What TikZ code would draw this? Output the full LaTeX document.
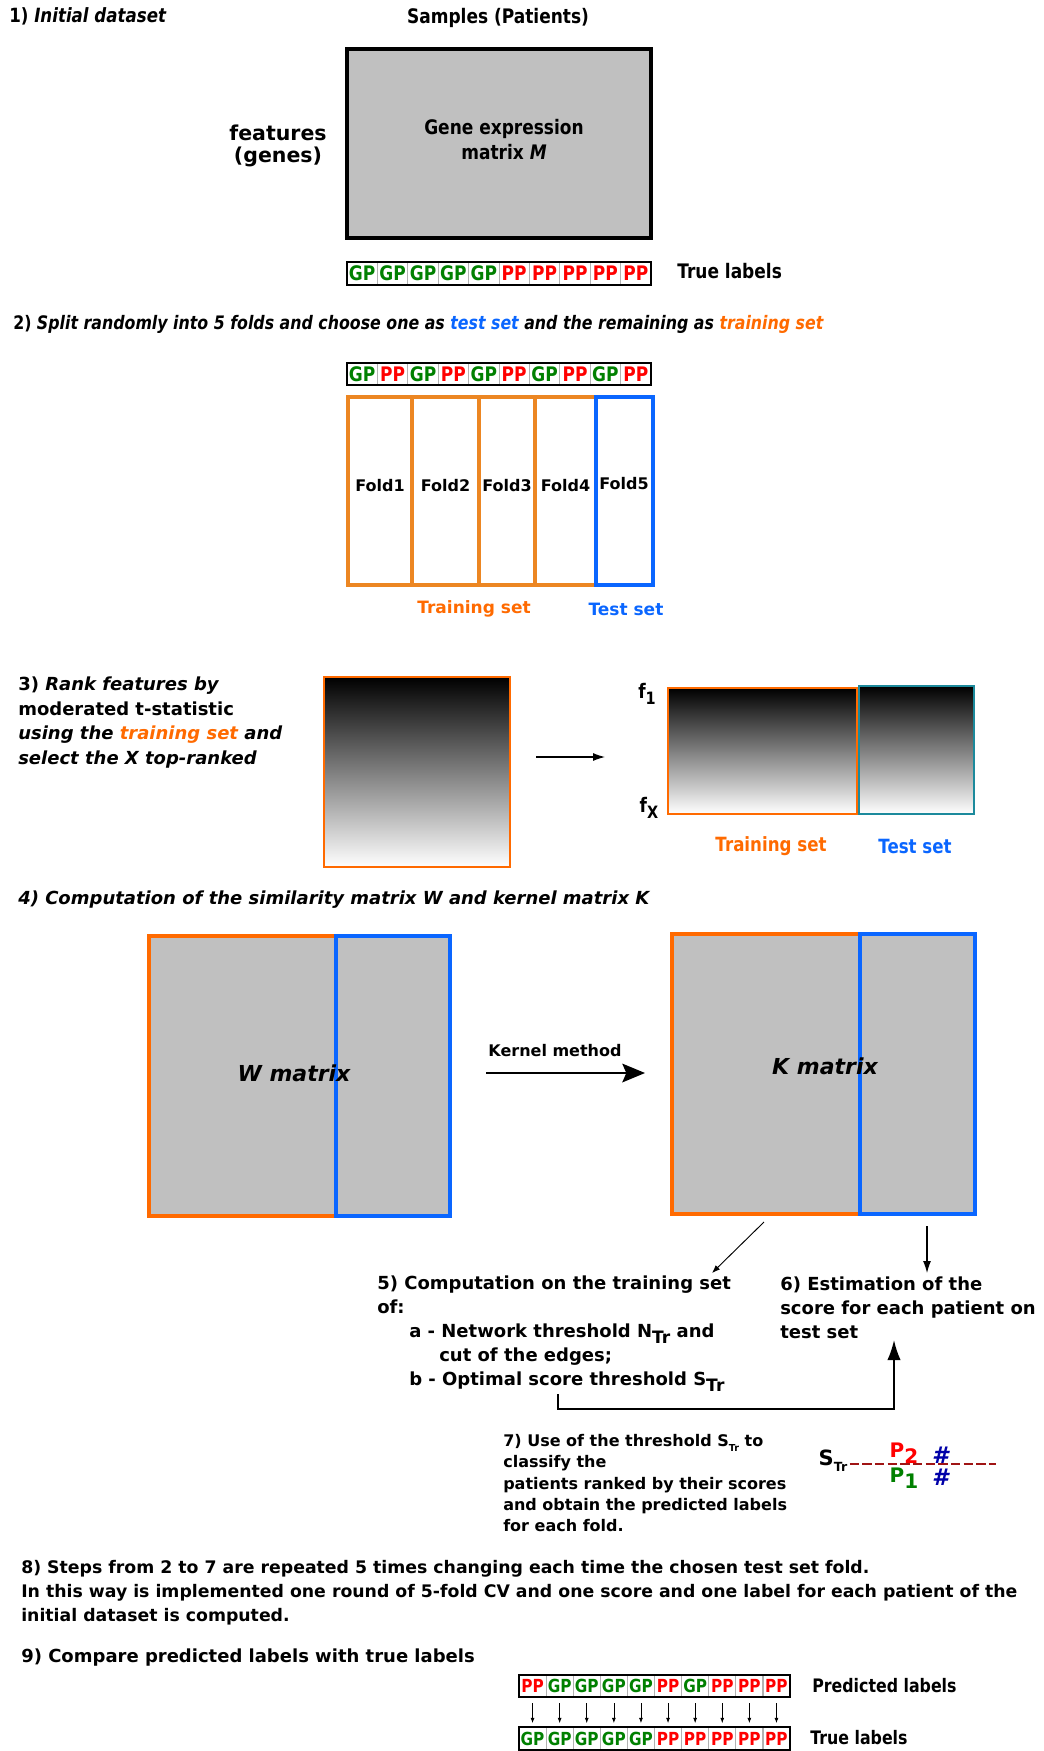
\documentclass[tikz,border=0pt]{standalone}
\usepackage{fontspec}
\setmainfont{DejaVu Sans}
\newfontfamily\condfont[FakeStretch=0.85]{DejaVu Sans}
\usetikzlibrary{arrows.meta,positioning}

\definecolor{gpgreen}{HTML}{008000}
\definecolor{ppred}{HTML}{FF0000}
\definecolor{trainorange}{HTML}{FF6A00}
\definecolor{foldorange}{HTML}{EC8622}
\definecolor{testblue}{HTML}{0A66FF}
\definecolor{tealedge}{HTML}{1C8A9C}
\definecolor{matgray}{HTML}{C0C0C0}
\definecolor{thrred}{HTML}{A01414}
\definecolor{hashblue}{HTML}{0000A8}

% size in px, baselineskip in px
\newcommand{\px}[2]{\fontsize{\fpeval{#1*0.75}pt}{\fpeval{#2*0.75}pt}\selectfont}
\newcommand{\lowtxt}[2][0.85]{\raisebox{-0.3em}{\scalebox{#1}{#2}}}

\tikzstyle{txt} = [inner sep=0, font=\bfseries]
\tikzstyle{ctxt} = [inner sep=0, font=\condfont\bfseries\px{20}{20}]
\tikzstyle{cell} = [draw=gray!60, line width=0.6pt, fill=white, inner sep=0, minimum height=17pt]
\tikzstyle{frame} = [draw=black, line width=2pt]
\tikzstyle{trainbox} = [draw=foldorange, line width=2.3pt]
\tikzstyle{testbox} = [draw=testblue, line width=2.3pt]
\tikzstyle{mat} = [fill=matgray]
\tikzstyle{grad} = [top color=black, bottom color=white]
\tikzstyle{thin} = [line width=0.7pt, -{Latex[length=6pt,width=4.5pt]}]

\begin{document}
\begin{tikzpicture}[x=0.75pt,y=-0.75pt]
\useasboundingbox (0,0) rectangle (1043,1751);

%Step 1
\node[ctxt, anchor=west, font=\condfont\bfseries\px{19.6}{19.6}] (s1) at (9,16) {1) \textit{Initial dataset}};
\node[ctxt] (samples) at (498,18) {Samples (Patients)};
\draw[frame, mat, line width=2.4pt] (347,49) rectangle (651,238);
\node[ctxt, align=center, font=\condfont\bfseries\px{20}{25}] (gem) at (504,140) {Gene expression\\matrix \textit{M}};
\node[txt, align=center, font=\bfseries\px{20.5}{22}] (feat) at (278,146) {features\\(genes)};

\foreach \col/\lab [count=\i] in {gpgreen/GP,gpgreen/GP,gpgreen/GP,gpgreen/GP,gpgreen/GP,ppred/PP,ppred/PP,ppred/PP,ppred/PP,ppred/PP}
  \node[cell, ctxt, text=\col, minimum width=22.8pt] (tl\i) at ({347+30.4*(\i-0.5)},273.5) {\lab};
\draw[frame] (347,262) rectangle (651,285);
\node[ctxt, anchor=west] (truelab) at (677,271) {True labels};

%Step 2
\node[ctxt, anchor=west, font=\condfont\bfseries\px{18.6}{18.6}] (s2) at (13,324) {2) \textit{Split randomly into 5 folds and choose one as \textcolor{testblue}{test set} and the remaining as \textcolor{trainorange}{training set}}};

\foreach \col/\lab [count=\i] in {gpgreen/GP,ppred/PP,gpgreen/GP,ppred/PP,gpgreen/GP,ppred/PP,gpgreen/GP,ppred/PP,gpgreen/GP,ppred/PP}
  \node[cell, ctxt, text=\col, minimum width=22.8pt] (fl\i) at ({347+30.4*(\i-0.5)},374) {\lab};
\draw[frame] (347,363) rectangle (651,385);

\foreach \a/\b/\n in {348/412/1,412/479/2,479/535/3,535/596/4}{
  \draw[trainbox] (\a,397) rectangle (\b,585);
  \node[txt, font=\bfseries\px{16}{16}] (fold\n) at ({(\a+\b)/2},486) {Fold\n};
}
\draw[testbox] (596,397) rectangle (653,585);
\node[txt, font=\bfseries\px{16}{16}] (fold5) at (624,484) {Fold5};

\node[txt, text=trainorange, font=\bfseries\px{17}{17}] (train2) at (474,609) {Training set};
\node[txt, text=testblue, font=\bfseries\px{17}{17}] (test2) at (626,609) {Test set};

%Step 3
\node[txt, anchor=north west, align=left, font=\bfseries\px{18}{24.5}] (s3) at (18,677) {3) \textit{Rank features by}\\moderated t-statistic\\\textit{using the \textcolor{trainorange}{training set} and}\\\textit{select the X top-ranked}};

\shade[grad] (324,677) rectangle (510,867);
\draw[draw=trainorange, line width=2.2pt] (324,677) rectangle (510,867);
\coordinate (rankout) at (536,757);
\coordinate (selin) at (605,757);
\draw[line width=0.8pt, -{Latex[length=9pt,width=6pt]}] (rankout) -- (selin);

\shade[grad] (668,688) rectangle (857,814);
\draw[draw=trainorange, line width=2.2pt] (668,688) rectangle (857,814);
\shade[grad] (859,686) rectangle (974,814);
\draw[draw=tealedge, line width=2.2pt] (859,686) rectangle (974,814);
\node[ctxt, font=\condfont\bfseries\px{20}{20}] (f1) at (647,694) {f\lowtxt{1}};
\node[ctxt, font=\condfont\bfseries\px{20}{20}] (fx) at (649,808) {f\lowtxt{X}};
\node[ctxt, font=\condfont\bfseries\px{19.6}{19.6}, text=trainorange] (train3) at (771,846) {Training set};
\node[ctxt, font=\condfont\bfseries\px{19.6}{19.6}, text=testblue] (test3) at (915,846) {Test set};

%Step 4
\node[txt, anchor=west, font=\bfseries\itshape\px{18}{18}] (s4) at (18,900) {4) Computation of the similarity matrix W and kernel matrix K};

\draw[mat, draw=trainorange, line width=2.4pt] (149,936) rectangle (336,1216);
\draw[mat, draw=testblue, line width=2.4pt] (336,936) rectangle (450,1216);
\node[txt, font=\bfseries\itshape\px{22}{22}] (wmat) at (294,1073) {W matrix};

\coordinate (wout) at (486,1073);
\coordinate (kin) at (645,1073);
\draw[line width=1.6pt, -{Stealth[length=17pt,width=14pt,inset=3pt]}] (wout) -- (kin);
\node[txt, font=\bfseries\px{16}{16}] (kernel) at (555,1051) {Kernel method};

\draw[mat, draw=trainorange, line width=2.4pt] (672,934) rectangle (860,1214);
\draw[mat, draw=testblue, line width=2.4pt] (860,934) rectangle (975,1214);
\node[txt, font=\bfseries\itshape\px{22}{22}] (kmat) at (825,1066) {K matrix};

%Steps 5 and 6
\node[txt, anchor=north west, align=left, font=\bfseries\px{18}{24}] (s5) at (377,1276) {5) Computation on the training set\\of:\\\hspace*{24pt}a - Network threshold N\lowtxt[0.95]{Tr} and\\\hspace*{46.5pt}cut of the edges;\\\hspace*{24pt}b - Optimal score threshold S\lowtxt[0.95]{Tr}};
\node[txt, anchor=north west, align=left, font=\bfseries\px{18}{24}] (s6) at (780,1277) {6) Estimation of the\\score for each patient on\\test set};

\coordinate (ktrain) at (764,1222);
\coordinate (s5in) at (712,1273);
\coordinate (ktest) at (927,1226);
\coordinate (s6top) at (927,1273);
\draw[thin] (ktrain) -- (s5in);
\draw[line width=0.8pt, -{Latex[length=9pt,width=6pt]}] (ktest) -- (s6top);

\coordinate (sthr) at (558,1394);
\coordinate (s6in) at (894,1340);
\draw[line width=1.3pt, -{Latex[length=15pt,width=10pt]}] (sthr) -- ++(0,15) -| (s6in);

%Step 7
\node[txt, anchor=north west, align=left, font=\bfseries\px{16}{21.3}] (s7) at (503,1434) {7) Use of the threshold S\lowtxt[0.6]{Tr} to\\classify the\\patients ranked by their scores\\and obtain the predicted labels\\for each fold.};

\node[txt, font=\bfseries\px{21}{21}] (strlab) at (833,1461) {S\lowtxt[0.6]{Tr}};
\coordinate (thrend) at (996,1464);
\draw[draw=thrred, line width=2pt, dash pattern=on 7pt off 2.5pt] (strlab.east) ++(2,3) -- (thrend);
\node[txt, text=ppred, font=\bfseries\px{20}{20}] (p2) at (904,1453) {P\lowtxt[1]{2}};
\node[txt, text=gpgreen, font=\bfseries\px{20}{20}] (p1) at (904,1478) {P\lowtxt[1]{1}};
\node[txt, text=hashblue, font=\bfseries\itshape\px{23}{23}] (h2) at (940,1455) {\#};
\node[txt, text=hashblue, font=\bfseries\itshape\px{23}{23}] (h1) at (940,1477) {\#};

%Steps 8 and 9
\node[txt, anchor=north west, align=left, font=\bfseries\px{17.3}{24}] (s8) at (21,1560) {8) Steps from 2 to 7 are repeated 5 times changing each time the chosen test set fold.\\In this way is implemented one round of 5-fold CV and one score and one label for each patient of the\\initial dataset is computed.};
\node[txt, anchor=west, font=\bfseries\px{18}{18}] (s9) at (21,1658) {9) Compare predicted labels with true labels};

\foreach \col/\lab [count=\i] in {ppred/PP,gpgreen/GP,gpgreen/GP,gpgreen/GP,gpgreen/GP,ppred/PP,gpgreen/GP,ppred/PP,ppred/PP,ppred/PP}
  \node[cell, ctxt, font=\condfont\bfseries\px{18}{18}, text=\col, minimum width=20.3pt, minimum height=16.5pt] (pl\i) at ({519+27.1*(\i-0.5)},1686) {\lab};
\draw[frame] (519,1675) rectangle (790,1697);
\node[ctxt, anchor=west, font=\condfont\bfseries\px{18.6}{18.6}] (predlab) at (812,1686) {Predicted labels};

\foreach \col/\lab [count=\i] in {gpgreen/GP,gpgreen/GP,gpgreen/GP,gpgreen/GP,gpgreen/GP,ppred/PP,ppred/PP,ppred/PP,ppred/PP,ppred/PP}
  \node[cell, ctxt, font=\condfont\bfseries\px{18}{18}, text=\col, minimum width=20.3pt, minimum height=16.5pt] (tb\i) at ({519+27.1*(\i-0.5)},1738.5) {\lab};
\draw[frame] (519,1727) rectangle (790,1750);
\node[ctxt, anchor=west, font=\condfont\bfseries\px{18.6}{18.6}] (truelab2) at (810,1738) {True labels};

\foreach \i in {1,...,10}
  \draw[line width=0.5pt, -{Latex[length=4pt,width=3pt]}, shorten <=4.5pt, shorten >=3pt] (pl\i) -- (tb\i);

\end{tikzpicture}
\end{document}
